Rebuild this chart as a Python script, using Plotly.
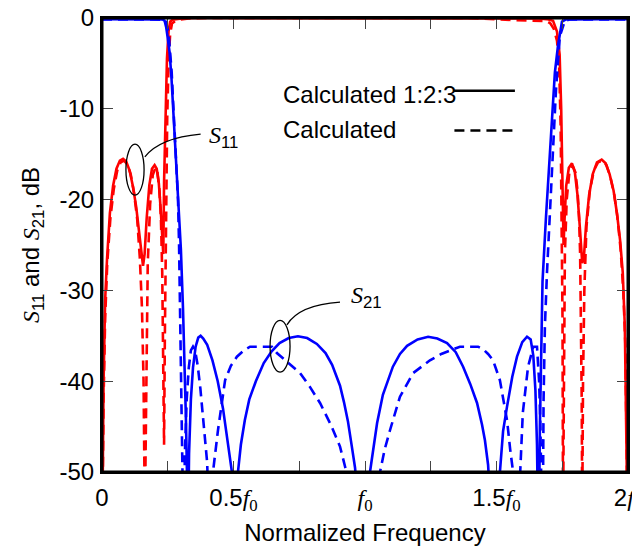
import plotly.graph_objects as go

# ---------------- data (normalized frequency, dB) ----------------
s11_solid_x = [0.000, 0.006, 0.012, 0.019, 0.030, 0.042, 0.055, 0.068, 0.080, 0.092, 0.105, 0.118,
               0.130, 0.142, 0.150, 0.156, 0.162, 0.170, 0.180, 0.190, 0.200, 0.208, 0.216, 0.223,
               0.229, 0.233, 0.236, 0.241, 0.247, 0.253, 0.259, 0.268, 0.285, 0.310, 0.40, 0.60,
               0.80, 1.00, 1.20, 1.40, 1.60, 1.66, 1.690, 1.705, 1.715, 1.730, 1.740, 1.746, 1.751,
               1.755, 1.759, 1.765, 1.775, 1.787, 1.798, 1.808, 1.818, 1.826, 1.832, 1.840, 1.852,
               1.866, 1.882, 1.900, 1.915, 1.930, 1.945, 1.958, 1.970, 1.980, 1.988, 1.994, 2.000]
s11_solid_db = [-60, -40, -31, -26.6, -21.5, -18.5, -16.6, -15.7, -15.5, -15.8, -16.8, -18.6,
                -20.8, -23.5, -25.8, -27.3, -26.0, -22.0, -18.4, -16.6, -16.2, -16.6, -18.2, -21.0,
                -24.5, -26.0, -18.0, -10.0, -4.5, -1.5, -0.4, -0.2, -0.1, -0.03, 0, 0,
                0, 0, 0, 0, -0.02, -0.06, -0.12, -0.2, -0.3, -1.5, -4.0, -10.0, -20.0,
                -25.0, -22.0, -18.5, -16.5, -16.0, -17.0, -19.5, -23.5, -27.0, -26.5, -23.0, -19.5,
                -17.2, -15.9, -15.6, -16.0, -17.2, -19.0, -21.5, -24.5, -28.0, -34.0, -42.0, -60]

s11_dash_x = [0.000, 0.006, 0.012, 0.020, 0.032, 0.045, 0.058, 0.071, 0.084, 0.096, 0.109, 0.122,
              0.134, 0.144, 0.152, 0.158, 0.163, 0.168, 0.174, 0.183, 0.193, 0.203, 0.211, 0.218,
              0.224, 0.229, 0.233, 0.236, 0.239, 0.243, 0.248, 0.253, 0.259, 0.266, 0.280, 0.300,
              0.330, 0.40, 0.60, 0.80, 1.00, 1.20, 1.40, 1.50, 1.60, 1.65, 1.690, 1.705, 1.718,
              1.730, 1.738, 1.744, 1.748, 1.751, 1.753, 1.756, 1.760, 1.767, 1.777, 1.790, 1.800,
              1.808, 1.814, 1.818, 1.821, 1.824, 1.826, 1.829, 1.834, 1.842, 1.855, 1.870, 1.886,
              1.903, 1.918, 1.933, 1.948, 1.960, 1.972, 1.982, 1.990, 1.995, 2.000]
s11_dash_db = [-60, -42, -33, -27, -22, -18.8, -16.8, -15.9, -15.7, -16.1, -17.2, -19.3,
               -22.2, -26.5, -32, -40, -55, -38, -27, -20.5, -17.3, -16.5, -17.0, -18.8,
               -22, -28, -37, -47, -35, -22, -11, -5, -1.8, -0.6, -0.3, -0.15,
               -0.05, 0, 0, 0, 0, 0, 0, -0.15, -0.25, -0.3, -0.35, -0.6, -1.2,
               -2.5, -5, -12, -22, -33, -55, -35, -26, -20, -17, -16.3, -17,
               -19, -22, -26, -32, -42, -55, -40, -30, -23, -19, -16.8, -15.9,
               -15.7, -16.2, -17.5, -19.5, -22, -25.5, -30, -36, -44, -60]

s21_solid_x = [0.000, 0.100, 0.200, 0.230, 0.238, 0.244, 0.250, 0.257, 0.264, 0.271, 0.278, 0.285,
               0.293, 0.300, 0.308, 0.314, 0.319, 0.323, 0.326, 0.331, 0.338, 0.346, 0.356, 0.366,
               0.375, 0.385, 0.400, 0.420, 0.440, 0.460, 0.475, 0.487, 0.494, 0.506, 0.517, 0.528,
               0.543, 0.560, 0.585, 0.615, 0.645, 0.675, 0.710, 0.745, 0.780, 0.817, 0.850, 0.875,
               0.905, 0.920, 0.935, 0.950, 0.962, 0.970, 0.995, 1.019, 1.033, 1.046, 1.068, 1.090,
               1.106, 1.133, 1.160, 1.200, 1.240, 1.275, 1.312, 1.345, 1.373, 1.400, 1.426, 1.445,
               1.456, 1.468, 1.474, 1.490, 1.513, 1.525, 1.540, 1.560, 1.578, 1.598, 1.616, 1.630,
               1.640, 1.648, 1.654, 1.660, 1.665, 1.670, 1.675, 1.688, 1.700, 1.711, 1.722, 1.734,
               1.749, 1.764, 1.800, 1.900, 2.000]
s21_solid_db = [-0.12, -0.12, -0.12, -0.15, -0.3, -1.0, -2.2, -3.8, -6.5, -10, -14.5, -17.5,
                -21, -25.5, -32, -38, -44, -50, -60, -48, -42, -38.5, -36.2, -35.2,
                -35.0, -35.3, -36.0, -37.7, -40.0, -43.0, -46.0, -48.8, -50, -60, -50, -47,
                -44.3, -42, -40, -38.0, -36.7, -35.8, -35.25, -35.05, -35.25, -35.9, -36.9, -38.2,
                -40.5, -42.3, -44.4, -47.2, -49.5, -52, -60, -50, -47, -44.6, -41.5, -39.6,
                -38.4, -37.0, -36.1, -35.4, -35.1, -35.3, -35.8, -36.8, -38.4, -40.3, -42.4, -44.8,
                -46.5, -49.2, -52, -60, -50, -45.5, -42.8, -39.5, -37.3, -35.7, -35.1, -35.4,
                -37.2, -41, -47, -60, -45, -35, -29, -22, -16, -11, -6, -3,
                -0.4, -0.15, -0.12, -0.12, -0.12]

s21_dash_x = [0.000, 0.100, 0.200, 0.235, 0.243, 0.250, 0.255, 0.259, 0.265, 0.270, 0.278, 0.289,
              0.293, 0.297, 0.300, 0.303, 0.306, 0.310, 0.315, 0.322, 0.330, 0.338, 0.346, 0.354,
              0.364, 0.374, 0.383, 0.392, 0.400, 0.410, 0.422, 0.441, 0.468, 0.490, 0.513, 0.540,
              0.563, 0.600, 0.646, 0.665, 0.700, 0.753, 0.790, 0.829, 0.870, 0.905, 0.925, 0.935,
              1.000, 1.057, 1.075, 1.095, 1.133, 1.183, 1.247, 1.290, 1.323, 1.361, 1.430, 1.450,
              1.468, 1.487, 1.513, 1.527, 1.540, 1.552, 1.563, 1.575, 1.589, 1.600, 1.620, 1.640,
              1.654, 1.662, 1.667, 1.675, 1.679, 1.684, 1.692, 1.703, 1.712, 1.726, 1.741, 1.760,
              1.780, 1.900, 2.000]
s21_dash_db = [-0.15, -0.15, -0.15, -0.18, -0.4, -1.2, -2.3, -3.5, -6, -9, -13.4, -20,
               -25, -32, -40, -46, -50, -60, -48, -42, -38.5, -36.6, -36.2, -36.6,
               -38.3, -40.8, -43.5, -46, -49, -60, -50, -45.4, -39.9, -38.3, -37.3, -36.6,
               -36.2, -36.2, -36.2, -36.9, -37.8, -39.1, -40.6, -42.4, -44.8, -47.2, -49.5, -51,
               -60, -50, -47.5, -45.4, -41.7, -39.1, -37.7, -37.0, -36.6, -36.2, -36.2, -36.5,
               -37.0, -37.7, -39.9, -42, -44.3, -47.5, -50, -60, -50, -43.5, -38.4, -36.2,
               -36.2, -40, -45, -60, -42, -34, -28, -22, -16, -8, -2, -0.3,
               -0.15, -0.15, -0.15]

x_tick_vals = [0, 0.25, 0.5, 0.75, 1.0, 1.25, 1.5, 1.75, 2.0]
y_tick_vals = [0, -10, -20, -30, -40, -50]

SERIF = "Liberation Serif"
SANS = "Liberation Sans"
FS = 24
f0 = "<span style='font-family:%s'><i>f</i><sub>0</sub></span>" % SERIF
x_tick_text = ["0", "", "0.5" + f0, "", f0, "", "1.5" + f0, "", "2" + f0]

def S(sub):
    return "<span style='font-family:%s'><i>S</i></span><sub>%s</sub>" % (SERIF, sub)

RED = "#ff0000"
BLUE = "#0000ff"
DASH = "10px,6px"

fig = go.Figure()
fig.add_trace(go.Scatter(x=s11_solid_x, y=s11_solid_db, mode="lines",
                         line=dict(color=RED, width=2.6), showlegend=False))
fig.add_trace(go.Scatter(x=s11_dash_x, y=s11_dash_db, mode="lines",
                         line=dict(color=RED, width=2.6, dash=DASH), showlegend=False))
fig.add_trace(go.Scatter(x=s21_solid_x, y=s21_solid_db, mode="lines",
                         line=dict(color=BLUE, width=2.6), showlegend=False))
fig.add_trace(go.Scatter(x=s21_dash_x, y=s21_dash_db, mode="lines",
                         line=dict(color=BLUE, width=2.6, dash=DASH), showlegend=False))

# frame drawn over the plot edge
fig.add_shape(type="rect", xref="paper", yref="paper", x0=0, x1=1, y0=0, y1=1,
              line=dict(color="black", width=3), layer="above")

# legend drawn as text + line samples
fig.add_annotation(x=0.68, y=-8.4, text="Calculated 1:2:3", showarrow=False,
                   xanchor="left", yanchor="middle", font=dict(size=FS, family=SANS, color="black"))
fig.add_annotation(x=0.68, y=-12.3, text="Calculated", showarrow=False,
                   xanchor="left", yanchor="middle", font=dict(size=FS, family=SANS, color="black"))
fig.add_shape(type="line", x0=1.335, x1=1.570, y0=-8.0, y1=-8.0,
              line=dict(color="black", width=2.5))
fig.add_shape(type="line", x0=1.340, x1=1.578, y0=-12.4, y1=-12.4,
              line=dict(color="black", width=2.5, dash=DASH))

# S11 / S21 labels with ellipses and leader lines
fig.add_annotation(x=0.40, y=-13.1, text=S("11"), showarrow=False, xanchor="left",
                   yanchor="middle", font=dict(size=FS, family=SANS, color="black"))
fig.add_annotation(x=0.94, y=-30.7, text=S("21"), showarrow=False, xanchor="left",
                   yanchor="middle", font=dict(size=FS, family=SANS, color="black"))
fig.add_shape(type="circle", x0=0.091, x1=0.160, y0=-19.5, y1=-13.9,
              line=dict(color="black", width=1.3))
fig.add_shape(type="circle", x0=0.639, x1=0.715, y0=-39.0, y1=-33.3,
              line=dict(color="black", width=1.3))
fig.add_shape(type="path", path="M 0.163,-15.3 Q 0.22,-13.2 0.375,-12.8",
              line=dict(color="black", width=1.3))
fig.add_shape(type="path", path="M 0.703,-33.8 Q 0.75,-31.6 0.905,-31.3",
              line=dict(color="black", width=1.3))

axis_common = dict(showgrid=False, zeroline=False, showline=True, linecolor="black",
                   linewidth=2, mirror="ticks", ticks="inside", ticklen=11,
                   tickwidth=1, tickcolor="#444", automargin=False,
                   ticklabeloverflow="allow",
                   tickfont=dict(size=FS, family=SANS, color="black"))

fig.update_xaxes(range=[0, 2], tickmode="array", tickvals=x_tick_vals, ticktext=x_tick_text,
                 ticklabelstandoff=3,
                 title=dict(text="Normalized Frequency", font=dict(size=FS, family=SANS, color="black"),
                            standoff=10),
                 **axis_common)
fig.update_yaxes(range=[-50, 0], tickmode="array", tickvals=y_tick_vals,
                 ticktext=[str(v) for v in y_tick_vals], ticklabelstandoff=1,
                 title=dict(text=S("11") + " and " + S("21") + ", dB",
                            font=dict(size=FS, family=SANS, color="black"), standoff=13),
                 **axis_common)

# the page adds an 8px body margin, so the figure is 8px smaller than the window
fig.update_layout(width=632, height=540, margin=dict(l=94, r=12, t=10, b=76),
                  plot_bgcolor="white", paper_bgcolor="white", showlegend=False)

fig.write_html("out.html")
